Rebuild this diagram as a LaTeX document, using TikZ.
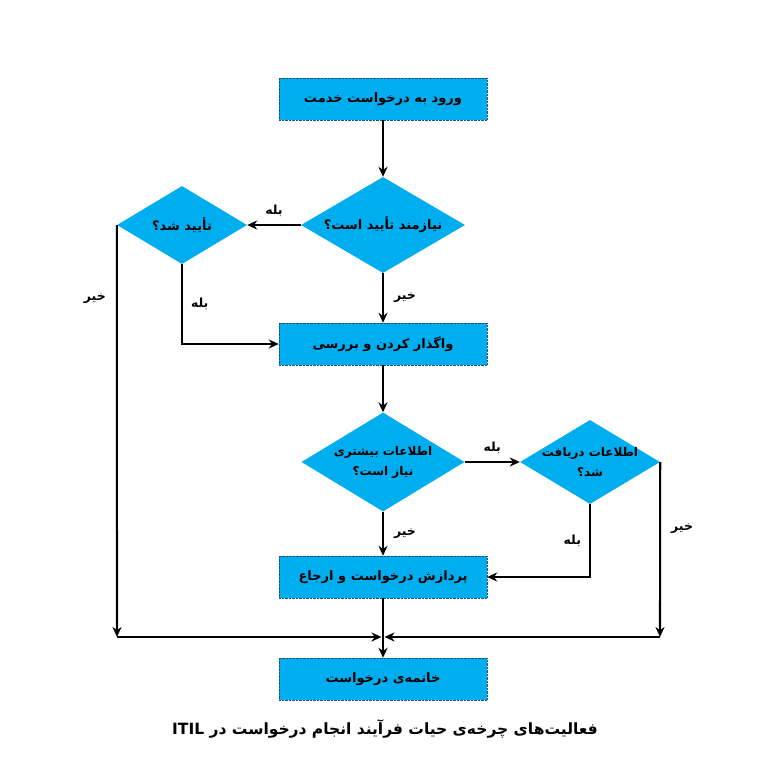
\documentclass[tikz,border=0pt]{standalone}
\usepackage{fontspec}
\usetikzlibrary{shapes.geometric,arrows.meta}
\TeXXeTstate=1
\newfontfamily\arabicfont[Script=Arabic]{DejaVu Sans}
\definecolor{boxblue}{HTML}{00AEEF}
\definecolor{edgeblue}{HTML}{1F4E79}
\tikzset{
  procbox/.style={draw=edgeblue, densely dotted, fill=boxblue, minimum width=208pt, minimum height=42pt, inner sep=0pt, font=\arabicfont\bfseries\fontsize{13}{16}\selectfont},
  decision/.style={diamond, fill=boxblue, inner sep=0pt},
  dtext/.style={align=center, inner sep=0pt, font=\arabicfont\bfseries\fontsize{13}{16}\selectfont},
  dtextsm/.style={align=center, inner sep=0pt, font=\arabicfont\bfseries\fontsize{12}{15}\selectfont},
  flow/.style={-{Stealth[length=10pt,width=9pt]}, line width=2.1pt, black},
  lbl/.style={inner sep=2pt, font=\arabicfont\bfseries\fontsize{12.5}{15}\selectfont},
}
\begin{document}
\begin{tikzpicture}[x=1pt,y=-1pt]
\useasboundingbox (0,0) rectangle (768,768);
\node[procbox] (b1) at (383,99) {\beginR ورود به درخواست خدمت\endR};
\node[decision, minimum width=164pt, minimum height=96pt, label={[dtext]center:{\beginR نیازمند تأیید است؟\endR}}] (d1) at (383,225) {};
\node[decision, minimum width=130pt, minimum height=78pt, label={[dtext]center:{\beginR تأیید شد؟\endR}}] (d2) at (182,225) {};
\node[procbox] (b2) at (383,344) {\beginR واگذار کردن و بررسی\endR};
\node[decision, minimum width=163pt, minimum height=99pt, label={[dtextsm]center:{\beginR اطلاعات بیشتری\endR\\[5pt]\beginR نیاز است؟\endR}}] (d3) at (383,462) {};
\node[decision, minimum width=140pt, minimum height=84pt, label={[dtextsm]center:{\beginR اطلاعات دریافت\endR\\[5pt]\beginR شد؟\endR}}] (d4) at (590,462) {};
\node[procbox] (b3) at (383,577) {\beginR پردازش درخواست و ارجاع\endR};
\node[procbox] (b4) at (383,679) {\beginR خاتمه‌ی درخواست\endR};
\node[font=\arabicfont\bfseries\fontsize{15.5}{19}\selectfont] (cap) at (385,729) {\beginR فعالیت‌های چرخه‌ی حیات فرآیند انجام درخواست در \beginL ITIL\endL\endR};
\coordinate (jl) at (117,637);
\coordinate (jr) at (660,637);
\coordinate (jc) at (383,637);
\draw[flow] (b1.south) -- (d1.north);
\draw[flow] (d1.west) -- (d2.east) node[lbl, midway, above=5pt] {\beginR بله\endR};
\draw[flow] (d1.south) -- (b2.north) node[lbl, midway, right=8pt] {\beginR خیر\endR};
\draw[flow] (d2.south) |- (b2.west) node[lbl, pos=0.25, right=6pt] {\beginR بله\endR};
\draw[flow] (d2.west) -- (jl) node[lbl, pos=0.18, left=8pt] {\beginR خیر\endR};
\draw[flow, shorten >=1.5pt] (jl) -- (jc);
\draw[flow] (b2.south) -- (d3.north);
\draw[flow] (d3.east) -- (d4.west) node[lbl, midway, above=5pt] {\beginR بله\endR};
\draw[flow] (d3.south) -- (b3.north) node[lbl, midway, right=8pt] {\beginR خیر\endR};
\draw[flow] (d4.south) |- (b3.east) node[lbl, pos=0.25, left=6pt] {\beginR بله\endR};
\draw[flow] (d4.east) -- (jr) node[lbl, pos=0.38, right=8pt] {\beginR خیر\endR};
\draw[flow, shorten >=1.5pt] (jr) -- (jc);
\draw[flow] (b3.south) -- (b4.north);
\end{tikzpicture}
\end{document}
